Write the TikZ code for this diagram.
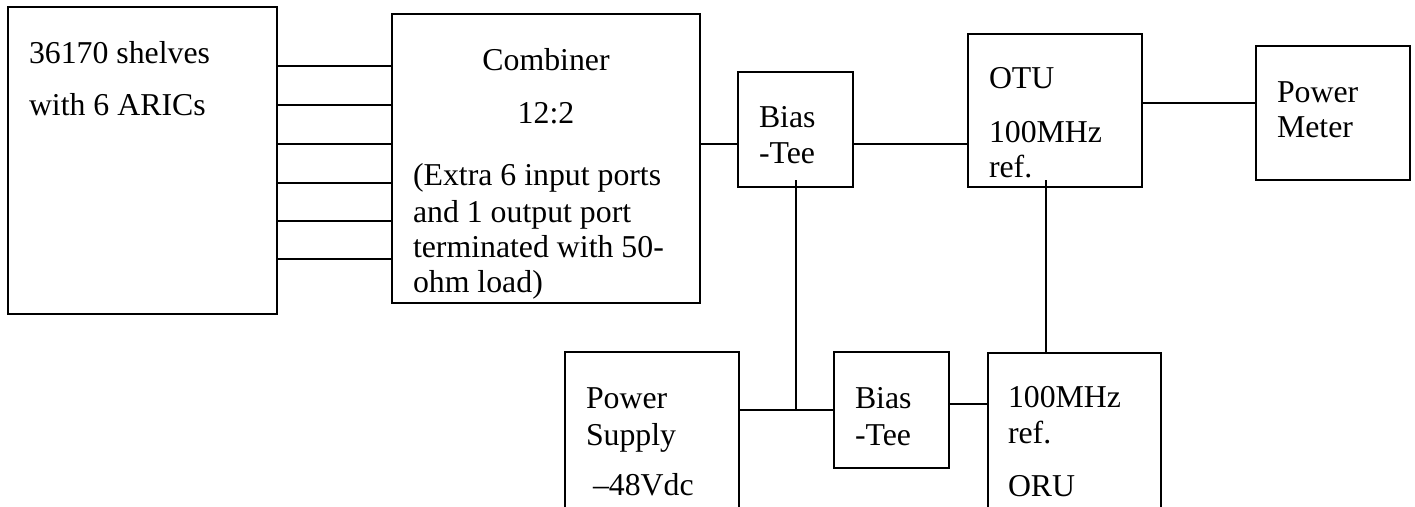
\documentclass[tikz,border=0pt]{standalone}
\usepackage{fontspec}
\setmainfont{Liberation Serif}
\begin{document}
\begin{tikzpicture}[x=1pt,y=-1pt,
  box/.style={draw=black,line width=1.9pt,rectangle,inner sep=0pt,outer sep=0pt,anchor=north west},
  lbl/.style={inner sep=0pt,outer sep=0pt,anchor=base west,font=\fontsize{31.8}{35.5}\selectfont},
  clbl/.style={lbl,anchor=base},
  wire/.style={line width=1.9pt}]
\clip (0,0) rectangle (1415,506);
\fill[white] (0,0) rectangle (1415,506);

% blocks
\node[box,minimum width=269pt,minimum height=307pt] (shelves) at (8,7) {};
\node[box,minimum width=308pt,minimum height=289pt] (comb) at (392,14) {};
\node[box,minimum width=115pt,minimum height=115pt] (bt1) at (738,72) {};
\node[box,minimum width=174pt,minimum height=153pt] (otu) at (968,34) {};
\node[box,minimum width=154pt,minimum height=134pt] (pm) at (1256,46) {};
\node[box,minimum width=174pt,minimum height=200pt] (ps) at (565,352) {};
\node[box,minimum width=115pt,minimum height=116pt] (bt2) at (834,352) {};
\node[box,minimum width=173pt,minimum height=200pt] (oru) at (988,353) {};

% labels
\node[lbl] (sh1) at (29,63) {36170 shelves};
\node[lbl] (sh2) at (29,115) {with 6 ARICs};
\node[clbl] (cb1) at (546,70) {Combiner};
\node[clbl] (cb2) at (546,123) {12:2};
\node[lbl] (cb3) at (413,185) {(Extra 6 input ports};
\node[lbl] (cb4) at (413,222) {and 1 output port};
\node[lbl] (cb5) at (413,257) {terminated with 50-};
\node[lbl] (cb6) at (413,292) {ohm load)};
\node[lbl] (ba1) at (759,127) {Bias};
\node[lbl] (ba2) at (759,163) {-Tee};
\node[lbl] (ot1) at (989,88) {OTU};
\node[lbl] (ot2) at (989,142) {100MHz};
\node[lbl] (ot3) at (989,177) {ref.};
\node[lbl] (pm1) at (1277,102) {Power};
\node[lbl] (pm2) at (1277,137) {Meter};
\node[lbl] (ps1) at (586,408) {Power};
\node[lbl] (ps2) at (586,445) {Supply};
\node[lbl] (ps3) at (593,495) {–48Vdc};
\node[lbl] (bb1) at (855,408) {Bias};
\node[lbl] (bb2) at (855,445) {-Tee};
\node[lbl] (or1) at (1008,407) {100MHz};
\node[lbl] (or2) at (1008,443) {ref.};
\node[lbl] (or3) at (1008,496) {ORU};

% junction points of the vertical feeds
\coordinate (bt1tap) at (796,180);
\coordinate (dcjoin) at (796,410);
\coordinate (otutap) at (1046,180);

% six shelf outputs into the combiner
\foreach \yy in {66,105,144,183,221,259}
  \draw[wire] (shelves.east |- 0,\yy) -- (comb.west |- 0,\yy);

% RF chain
\draw[wire] (comb.east |- 0,144) -- (bt1.west |- 0,144);
\draw[wire] (bt1.east |- 0,144) -- (otu.west |- 0,144);
\draw[wire] (otu.east |- 0,103) -- (pm.west |- 0,103);

% DC feed and reference path
\draw[wire] (bt1tap) -- (dcjoin);
\draw[wire] (ps.east |- dcjoin) -- (bt2.west |- dcjoin);
\draw[wire] (bt2.east |- 0,404) -- (oru.west |- 0,404);
\draw[wire] (otutap) -- (otutap |- oru.north);
\end{tikzpicture}
\end{document}
